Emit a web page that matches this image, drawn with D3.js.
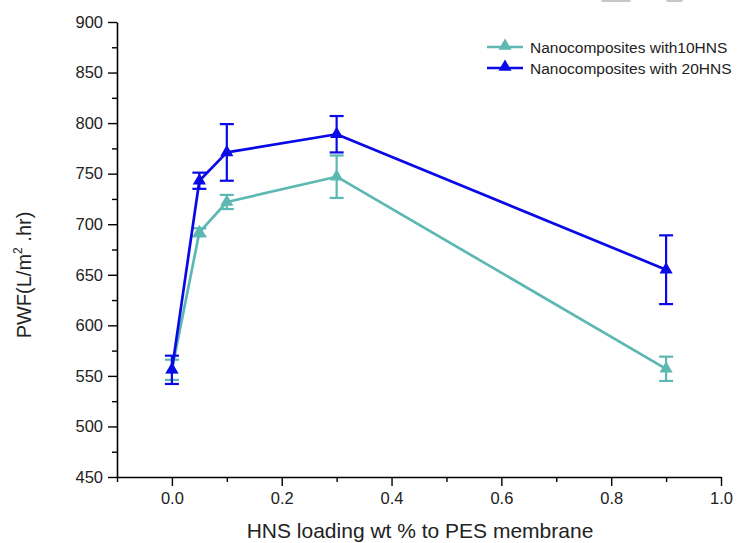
<!DOCTYPE html>
<html>
<head>
<meta charset="utf-8">
<script src="https://cdn.jsdelivr.net/npm/d3@7"></script>
<style>
  body { margin: 0; background: #fff; }
  svg { display: block; font-family: "Liberation Sans", Arial, sans-serif; }
</style>
</head>
<body>
<svg id="chart"></svg>
<script>
// loading (wt %) and pure water flux values
const loading = [0, 0.05, 0.1, 0.3, 0.9];
const pwf10 = [556, 692, 722, 747, 557];
const err10 = [10, 4, 7, 21, 12];
const pwf20 = [556, 743, 771, 789, 655];
const err20 = [14, 8, 28, 18, 34];
const seriesNames = ['Nanocomposites with10HNS', 'Nanocomposites with 20HNS'];
const yTicks = [450, 500, 550, 600, 650, 700, 750, 800, 850, 900];
const xTicks = [0.0, 0.2, 0.4, 0.6, 0.8, 1.0];

const width = 740, height = 543;
const margin = {top: 22, right: 19, bottom: 66, left: 117};

const svg = d3.select('#chart')
    .attr('width', width)
    .attr('height', height);

const x = d3.scaleLinear().domain([-0.1, 1.0]).range([margin.left, width - margin.right]);
const y = d3.scaleLinear().domain([450, 900]).range([height - margin.bottom, margin.top]);

// little grey marks at the very top of the original image
svg.append('rect').attr('x', 601).attr('y', -4).attr('width', 30).attr('height', 6).attr('rx', 2).attr('fill', '#c8c8c8');
svg.append('rect').attr('x', 666).attr('y', -4).attr('width', 17).attr('height', 6).attr('rx', 2).attr('fill', '#c8c8c8');

// minor ticks
const yMinor = d3.range(475, 900, 50);
const xMinor = d3.range(-0.1, 1.0, 0.2).map(v => +v.toFixed(2));

svg.append('g')
    .attr('transform', `translate(${margin.left},0)`)
    .call(d3.axisLeft(y).tickValues(yMinor).tickSize(5).tickFormat(''))
    .call(g => g.select('.domain').remove())
    .selectAll('line').attr('stroke', '#000').attr('stroke-width', 1.4);

svg.append('g')
    .attr('transform', `translate(0,${height - margin.bottom})`)
    .call(d3.axisBottom(x).tickValues(xMinor).tickSize(5).tickFormat(''))
    .call(g => g.select('.domain').remove())
    .selectAll('line').attr('stroke', '#000').attr('stroke-width', 1.4);

// main axes
const yAxis = svg.append('g')
    .attr('transform', `translate(${margin.left},0)`)
    .call(d3.axisLeft(y).tickValues(yTicks).tickSize(9).tickSizeOuter(0).tickPadding(5));
yAxis.select('.domain').attr('stroke-width', 1.6);
yAxis.selectAll('line').attr('stroke-width', 1.4);
yAxis.selectAll('text').attr('font-size', 16.5).attr('fill', '#222');

const xAxis = svg.append('g')
    .attr('transform', `translate(0,${height - margin.bottom})`)
    .call(d3.axisBottom(x).tickValues(xTicks).tickSize(9).tickSizeOuter(0).tickPadding(6).tickFormat(d3.format('.1f')));
xAxis.select('.domain').attr('stroke-width', 1.6);
xAxis.selectAll('line').attr('stroke-width', 1.4);
xAxis.selectAll('text').attr('font-size', 16.5).attr('fill', '#222');

// axis titles
svg.append('text')
    .attr('x', 420)
    .attr('y', 538)
    .attr('text-anchor', 'middle')
    .attr('font-size', 21)
    .attr('fill', '#222')
    .text('HNS loading wt % to PES membrane');

const yTitle = svg.append('text')
    .attr('transform', 'translate(31,275) rotate(-90)')
    .attr('text-anchor', 'middle')
    .attr('font-size', 20)
    .attr('fill', '#222');
yTitle.append('tspan').text('PWF(L/m');
yTitle.append('tspan').attr('font-size', 12).attr('dy', -9).text('2');
yTitle.append('tspan').attr('dy', 9).text(' .hr)');

// series
const series = [
    {name: seriesNames[0], values: pwf10, errs: err10, color: '#5cb8b2'},
    {name: seriesNames[1], values: pwf20, errs: err20, color: '#0a0ae6'}
];

const line = d3.line()
    .x(d => x(d.x))
    .y(d => y(d.y));

const tri = d3.symbol().type(d3.symbolTriangle).size(75);

series.forEach(s => {
    const pts = loading.map((v, i) => ({x: v, y: s.values[i], e: s.errs[i]}));
    const g = svg.append('g');

    g.append('path')
        .datum(pts)
        .attr('d', line)
        .attr('fill', 'none')
        .attr('stroke', s.color)
        .attr('stroke-width', 2.7)
        .attr('stroke-linejoin', 'round');

    // error bars
    const eb = g.selectAll('.err')
        .data(pts)
        .enter()
        .append('g')
        .attr('class', 'err')
        .attr('stroke', s.color)
        .attr('stroke-width', 2.2);
    eb.append('line')
        .attr('x1', d => x(d.x)).attr('x2', d => x(d.x))
        .attr('y1', d => y(d.y + d.e)).attr('y2', d => y(d.y - d.e));
    eb.append('line')
        .attr('x1', d => x(d.x) - 7).attr('x2', d => x(d.x) + 7)
        .attr('y1', d => y(d.y + d.e)).attr('y2', d => y(d.y + d.e));
    eb.append('line')
        .attr('x1', d => x(d.x) - 7).attr('x2', d => x(d.x) + 7)
        .attr('y1', d => y(d.y - d.e)).attr('y2', d => y(d.y - d.e));

    g.selectAll('.mark')
        .data(pts)
        .enter()
        .append('path')
        .attr('class', 'mark')
        .attr('d', tri)
        .attr('transform', d => `translate(${x(d.x)},${y(d.y)})`)
        .attr('fill', s.color);
});

// legend
const legend = svg.append('g')
    .attr('transform', 'translate(487,47)');

const legendItems = legend.selectAll('.legend-item')
    .data(series)
    .enter()
    .append('g')
    .attr('class', 'legend-item')
    .attr('transform', (d, i) => `translate(0,${i * 21})`);

legendItems.append('line')
    .attr('x1', 0).attr('x2', 36)
    .attr('stroke', d => d.color)
    .attr('stroke-width', 2.7);

legendItems.append('path')
    .attr('d', tri)
    .attr('transform', 'translate(18,-1)')
    .attr('fill', d => d.color);

legendItems.append('text')
    .attr('x', 43)
    .attr('y', 5.5)
    .attr('font-size', 15.5)
    .attr('fill', '#222')
    .text(d => d.name);
</script>
</body>
</html>
